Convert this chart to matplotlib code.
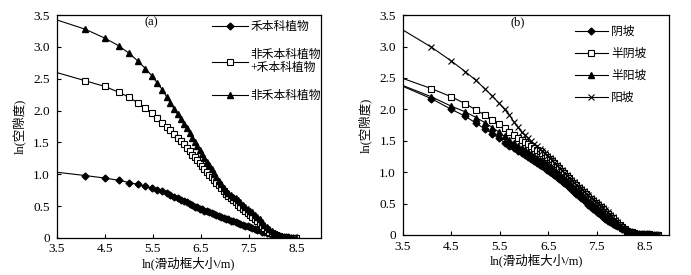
import numpy as np
import matplotlib
matplotlib.use("Agg")
import matplotlib.pyplot as plt

plt.rcParams['font.family'] = ['Liberation Serif', 'Noto Sans CJK SC', 'DejaVu Sans']
plt.rcParams['font.size'] = 8.5

# ln(window size) values
lnr = [3.40, 4.09, 4.50, 4.79, 5.01, 5.19, 5.35, 5.48, 5.60, 5.70,
       5.79, 5.87, 5.95, 6.02, 6.09, 6.15, 6.21, 6.27, 6.33, 6.38,
       6.43, 6.48, 6.53, 6.58, 6.63, 6.68, 6.73, 6.78, 6.83, 6.88,
       6.93, 6.98, 7.03, 7.08, 7.13, 7.18, 7.23, 7.28, 7.33, 7.38,
       7.43, 7.48, 7.53, 7.58, 7.63, 7.68, 7.73, 7.78, 7.83, 7.88,
       7.93, 7.98, 8.03, 8.08, 8.13, 8.18, 8.23, 8.28, 8.33, 8.38,
       8.43, 8.48]
lnr_b = lnr + [8.53, 8.58, 8.63, 8.68, 8.72, 8.76]

# (a) vegetation type
grass = [1.04, 0.98, 0.94, 0.905, 0.87, 0.84, 0.81, 0.78, 0.75, 0.73,
         0.70, 0.675, 0.65, 0.62, 0.60, 0.58, 0.56, 0.54, 0.51, 0.49,
         0.48, 0.46, 0.45, 0.43, 0.42, 0.40, 0.39, 0.37, 0.36, 0.34,
         0.33, 0.31, 0.30, 0.29, 0.27, 0.26, 0.25, 0.24, 0.22, 0.21,
         0.19, 0.18, 0.17, 0.16, 0.14, 0.13, 0.12, 0.10, 0.09, 0.08,
         0.07, 0.05, 0.04, 0.03, 0.02, 0.02, 0.01, 0.01, 0.01, 0.00,
         0.00, 0.00]
mixed = [2.62, 2.47, 2.38, 2.29, 2.21, 2.12, 2.04, 1.96, 1.88, 1.81,
         1.75, 1.69, 1.63, 1.57, 1.52, 1.47, 1.42, 1.37, 1.31, 1.27,
         1.22, 1.17, 1.13, 1.08, 1.04, 0.99, 0.95, 0.91, 0.87, 0.83,
         0.78, 0.73, 0.69, 0.66, 0.62, 0.59, 0.56, 0.52, 0.49, 0.46,
         0.42, 0.39, 0.36, 0.33, 0.29, 0.26, 0.23, 0.19, 0.16, 0.13,
         0.10, 0.08, 0.06, 0.04, 0.03, 0.02, 0.01, 0.01, 0.00, 0.00,
         0.00, 0.00]
nongrass = [3.45, 3.28, 3.14, 3.02, 2.90, 2.78, 2.66, 2.55, 2.43, 2.33,
            2.22, 2.12, 2.03, 1.94, 1.86, 1.79, 1.72, 1.65, 1.57, 1.51,
            1.45, 1.38, 1.32, 1.26, 1.20, 1.14, 1.08, 1.02, 0.96, 0.90,
            0.84, 0.78, 0.74, 0.71, 0.68, 0.65, 0.62, 0.59, 0.56, 0.52,
            0.49, 0.46, 0.43, 0.40, 0.36, 0.33, 0.29, 0.25, 0.21, 0.17,
            0.14, 0.11, 0.08, 0.06, 0.04, 0.03, 0.02, 0.01, 0.01, 0.00,
            0.00, 0.00]

# (b) slope aspect
shady = [2.40, 2.17, 2.00, 1.89, 1.78, 1.69, 1.61, 1.54, 1.47, 1.42,
         1.38, 1.34, 1.30, 1.27, 1.24, 1.21, 1.18, 1.15, 1.12, 1.10,
         1.07, 1.04, 1.01, 0.98, 0.95, 0.92, 0.89, 0.86, 0.83, 0.79,
         0.76, 0.73, 0.69, 0.66, 0.62, 0.59, 0.55, 0.52, 0.48, 0.45,
         0.41, 0.38, 0.35, 0.32, 0.29, 0.26, 0.23, 0.21, 0.18, 0.16,
         0.14, 0.12, 0.10, 0.08, 0.06, 0.05, 0.04, 0.03, 0.02, 0.02,
         0.01, 0.01, 0.01, 0.01, 0.00, 0.00, 0.00, 0.00]
half_shady = [2.52, 2.33, 2.20, 2.09, 1.99, 1.91, 1.83, 1.76, 1.70, 1.64,
              1.59, 1.55, 1.51, 1.48, 1.45, 1.42, 1.39, 1.36, 1.33, 1.30,
              1.27, 1.24, 1.21, 1.17, 1.14, 1.10, 1.06, 1.02, 0.98, 0.94,
              0.90, 0.86, 0.82, 0.79, 0.75, 0.72, 0.68, 0.65, 0.61, 0.58,
              0.54, 0.51, 0.48, 0.44, 0.41, 0.37, 0.34, 0.30, 0.27, 0.23,
              0.19, 0.16, 0.12, 0.09, 0.07, 0.05, 0.04, 0.03, 0.02, 0.02,
              0.01, 0.01, 0.01, 0.01, 0.00, 0.00, 0.00, 0.00]
half_sunny = [2.41, 2.20, 2.05, 1.96, 1.87, 1.79, 1.71, 1.64, 1.57, 1.51,
              1.46, 1.42, 1.38, 1.35, 1.32, 1.29, 1.26, 1.23, 1.20, 1.17,
              1.14, 1.11, 1.08, 1.05, 1.02, 0.99, 0.96, 0.93, 0.89, 0.86,
              0.82, 0.79, 0.75, 0.72, 0.68, 0.65, 0.61, 0.58, 0.54, 0.51,
              0.47, 0.44, 0.41, 0.38, 0.35, 0.32, 0.29, 0.26, 0.23, 0.20,
              0.17, 0.14, 0.11, 0.09, 0.07, 0.05, 0.04, 0.03, 0.02, 0.02,
              0.01, 0.01, 0.01, 0.01, 0.00, 0.00, 0.00, 0.00]
sunny = [3.31, 2.99, 2.77, 2.60, 2.46, 2.33, 2.21, 2.10, 2.00, 1.91,
         1.80, 1.72, 1.64, 1.59, 1.54, 1.49, 1.45, 1.41, 1.37, 1.33,
         1.30, 1.26, 1.23, 1.19, 1.15, 1.11, 1.07, 1.03, 0.99, 0.95,
         0.91, 0.87, 0.84, 0.80, 0.77, 0.73, 0.70, 0.66, 0.63, 0.59,
         0.56, 0.53, 0.50, 0.46, 0.43, 0.40, 0.36, 0.32, 0.28, 0.24,
         0.20, 0.16, 0.12, 0.09, 0.07, 0.05, 0.04, 0.03, 0.02, 0.02,
         0.01, 0.01, 0.01, 0.01, 0.00, 0.00, 0.00, 0.00]

xticks = [3.5, 4.5, 5.5, 6.5, 7.5, 8.5]
yticks = [0, 0.5, 1.0, 1.5, 2.0, 2.5, 3.0, 3.5]
ytick_labels = ['0', '0.5', '1.0', '1.5', '2.0', '2.5', '3.0', '3.5']

fig = plt.figure(figsize=(6.91, 2.75), dpi=100)
ax1 = fig.add_axes([0.082, 0.135, 0.382, 0.81])
ax2 = fig.add_axes([0.583, 0.1455, 0.3856, 0.7995])

lw = 0.8
ax1.plot(lnr, grass, color='black', lw=lw, marker='D', ms=3.5, mfc='black', mec='black', label='禾本科植物')
ax1.plot(lnr, mixed, color='black', lw=lw, marker='s', ms=4.5, mfc='white', mec='black', mew=0.8,
         label='非禾本科植物\n+禾本科植物')
ax1.plot(lnr, nongrass, color='black', lw=lw, marker='^', ms=4.8, mfc='black', mec='black', label='非禾本科植物')

ax2.plot(lnr_b, shady, color='black', lw=lw, marker='D', ms=3.5, mfc='black', mec='black', label='阴坡')
ax2.plot(lnr_b, half_shady, color='black', lw=lw, marker='s', ms=4.5, mfc='white', mec='black', mew=0.8, label='半阴坡')
ax2.plot(lnr_b, half_sunny, color='black', lw=lw, marker='^', ms=4.8, mfc='black', mec='black', label='半阳坡')
ax2.plot(lnr_b, sunny, color='black', lw=lw, marker='x', ms=4, mec='black', mew=0.8, label='阳坡')

for ax in [ax1, ax2]:
    ax.set_xlim(3.5, 9.0)
    ax.set_ylim(0, 3.5)
    ax.set_xticks(xticks)
    ax.set_xticklabels([str(t) for t in xticks])
    ax.set_yticks(yticks)
    ax.set_yticklabels(ytick_labels)
    ax.tick_params(direction='in', length=3, width=0.8, labelsize=9.5)
    ax.tick_params(axis='x', pad=4)
    ax.tick_params(axis='y', pad=5)
    for s in ax.spines.values():
        s.set_linewidth(0.9)
    ax.set_xlabel('ln(滑动框大小/m)', fontsize=9, labelpad=1)
    ax.set_ylabel('ln(空隙度)', fontsize=9, labelpad=5)

ax1.text(0.36, 0.966, '(a)', transform=ax1.transAxes, ha='center', va='center', fontsize=9)
ax2.text(0.432, 0.967, '(b)', transform=ax2.transAxes, ha='center', va='center', fontsize=9)

ax1.legend(loc='upper left', bbox_to_anchor=(0.59, 0.975), frameon=False, fontsize=8.5,
           handlelength=3.0, handletextpad=0.2, labelspacing=1.35, borderpad=0, borderaxespad=0)
ax2.legend(loc='upper left', bbox_to_anchor=(0.645, 0.952), frameon=False, fontsize=8.5,
           handlelength=2.8, handletextpad=0.3, labelspacing=0.85, borderpad=0, borderaxespad=0)

fig.savefig('out.png', dpi=100)
